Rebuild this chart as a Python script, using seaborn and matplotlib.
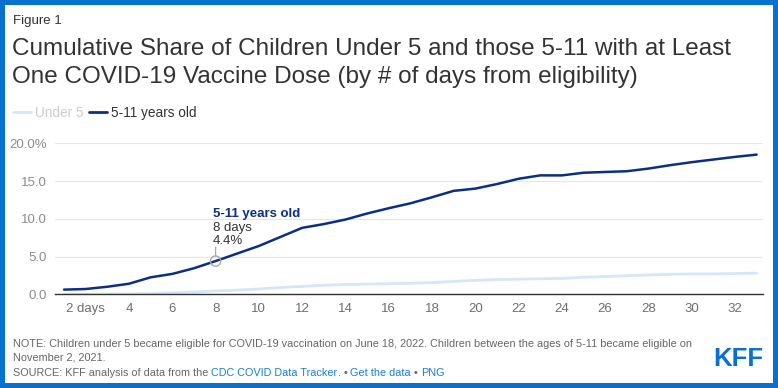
import matplotlib.pyplot as plt
import seaborn as sns
import pandas as pd
from matplotlib.lines import Line2D
from matplotlib.patches import Rectangle

# data (share with at least one dose, %)
days = list(range(1, 34))
under_5 = [0.0, 0.0, 0.02, 0.05, 0.1, 0.2, 0.3, 0.45, 0.55, 0.7, 0.9, 1.05, 1.2,
           1.3, 1.35, 1.4, 1.45, 1.55, 1.7, 1.85, 1.95, 2.0, 2.05, 2.1, 2.25,
           2.35, 2.45, 2.55, 2.65, 2.7, 2.7, 2.75, 2.8]
age_5_11 = [0.62, 0.7, 1.0, 1.4, 2.25, 2.7, 3.45, 4.4, 5.4, 6.4, 7.6, 8.8, 9.3,
            9.9, 10.7, 11.4, 12.05, 12.85, 13.7, 14.0, 14.6, 15.3, 15.75, 15.75,
            16.1, 16.2, 16.3, 16.65, 17.1, 17.5, 17.85, 18.2, 18.5]
series = ['Under 5', '5-11 years old']
x_ticks = list(range(2, 33, 2))
x_labels = ['2 days'] + [str(d) for d in x_ticks[1:]]
y_ticks = [0, 5, 10, 15, 20]
y_labels = ['0.0', '5.0', '10.0', '15.0', '20.0%']
note_day = 8

df = pd.DataFrame({
    'day': days * 2,
    'share': under_5 + age_5_11,
    'group': [series[0]] * len(days) + [series[1]] * len(days),
})

KFF_BLUE = '#0a70d0'
DARK = '#0b2e86'
LIGHT = '#d4e6f7'
TXT = '#333333'
GRAY = '#666666'
LINK = '#1a7dd7'

sns.set_theme(style='white')
plt.rcParams['font.family'] = ['Liberation Sans', 'DejaVu Sans']

fig = plt.figure(figsize=(7.78, 3.88), dpi=100)
ax = fig.add_axes([55 / 778, 1 - 294.3 / 388, (762.7 - 55) / 778, (294.3 - 143.3) / 388])

sns.lineplot(data=df, x='day', y='share', hue='group', hue_order=series,
             palette={series[0]: LIGHT, series[1]: DARK}, ax=ax, legend=False)
ax.lines[0].set_linewidth(2.0)
ax.lines[1].set_linewidth(1.8)

ax.set_xlim(0.58, 33.28)
ax.set_ylim(0, 20)
ax.set_xticks(x_ticks)
ax.set_xticklabels(x_labels, color='#6e6e6e', fontsize=9.5)
ax.set_yticks(y_ticks)
ax.set_yticklabels(y_labels, color='#8c8c8c', fontsize=9.5)
ax.tick_params(axis='both', length=0)
ax.tick_params(axis='x', pad=6)
ax.tick_params(axis='y', pad=6)
ax.grid(axis='y', color='#e6e6e6', linewidth=0.8)
ax.set_axisbelow(True)
for s in ['top', 'right', 'left']:
    ax.spines[s].set_visible(False)
ax.spines['bottom'].set_color(TXT)
ax.spines['bottom'].set_linewidth(1.0)
ax.spines['bottom'].set_zorder(5)
ax.set_xlabel('')
ax.set_ylabel('')

# tooltip-style callout on day 8
i = days.index(note_day)
val = age_5_11[i]
ax.scatter([note_day], [val], s=55, facecolor='none', edgecolor='#aaaaaa',
           linewidth=1.0, zorder=6)
ax.annotate('', xy=(note_day, val), xytext=(0, 10), textcoords='offset points',
            arrowprops=dict(arrowstyle='-', color='#aaaaaa', lw=0.9,
                            shrinkA=0, shrinkB=3.5))
ax.annotate('5-11 years old', xy=(note_day, val), xytext=(-2.2, 31.5),
            textcoords='offset points', fontsize=9.5, fontweight='bold',
            color=DARK, va='baseline')
ax.annotate(f'{note_day} days', xy=(note_day, val), xytext=(-2.2, 21.5),
            textcoords='offset points', fontsize=9.5, color=TXT, va='baseline')
ax.annotate(f'{val}%', xy=(note_day, val), xytext=(-2.2, 12),
            textcoords='offset points', fontsize=9.5, color=TXT, va='baseline')

# headings
fig.text(13 / 778, 1 - 24 / 388, 'Figure 1', fontsize=9.5, color=TXT, va='baseline')
fig.text(12 / 778, 1 - 55 / 388,
         'Cumulative Share of Children Under 5 and those 5-11 with at Least',
         fontsize=17.5, color=TXT, va='baseline')
fig.text(12 / 778, 1 - 83 / 388,
         'One COVID-19 Vaccine Dose (by # of days from eligibility)',
         fontsize=17.5, color=TXT, va='baseline')

handles = [Line2D([], [], color=LIGHT, lw=2), Line2D([], [], color=DARK, lw=2)]
leg = fig.legend(handles, series, loc='center left', bbox_to_anchor=(13 / 778, 1 - 113 / 388),
                 ncol=2, frameon=False, fontsize=9.8, handlelength=1.3,
                 handletextpad=0.3, columnspacing=0.45, borderpad=0, borderaxespad=0)
leg.get_texts()[0].set_color('#cccccc')
leg.get_texts()[1].set_color(TXT)

# footer
fig.text(13 / 778, 1 - 344 / 388,
         'NOTE: Children under 5 became eligible for COVID-19 vaccination on June 18, 2022. '
         'Children between the ages of 5-11 became eligible on',
         fontsize=7.85, color=GRAY, va='center')
fig.text(13 / 778, 1 - 357 / 388, 'November 2, 2021.', fontsize=7.85, color=GRAY, va='center')

parts = [('SOURCE: KFF analysis of data from the ', GRAY), ('CDC COVID Data Tracker', LINK),
         ('. \u2022 ', GRAY), ('Get the data', LINK), (' \u2022 ', GRAY), ('PNG', LINK)]
prev = fig.text(13 / 778, 1 - 376 / 388, parts[0][0], fontsize=7.85, color=parts[0][1],
                va='baseline')
for txt, col in parts[1:]:
    prev = ax.annotate(txt, xy=(1, 0), xycoords=prev, fontsize=7.85, color=col,
                       va='bottom', ha='left', annotation_clip=False)

fig.text(763 / 778, 1 - 366 / 388, 'KFF', fontsize=18.5, fontweight='bold', color=KFF_BLUE,
         ha='right', va='baseline')

fig.patches.append(Rectangle((0, 0), 1, 1, transform=fig.transFigure, fill=False,
                             edgecolor=KFF_BLUE, linewidth=7.2, figure=fig))

fig.savefig('out.png', dpi=100)
